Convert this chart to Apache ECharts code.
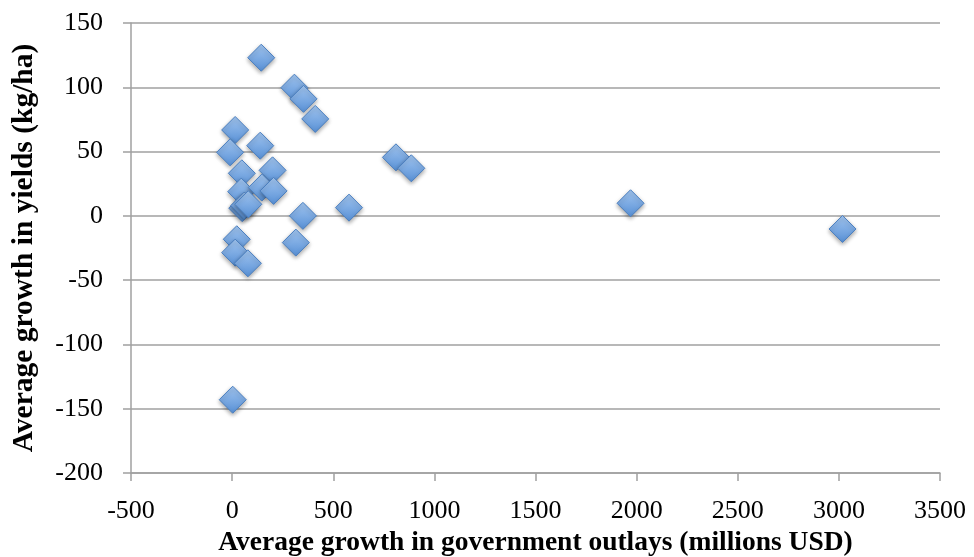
<!DOCTYPE html>
<html><head><meta charset="utf-8">
<script src="https://cdn.jsdelivr.net/npm/echarts@6/dist/echarts.min.js"></script>
<style>html,body{margin:0;padding:0;background:#fff}#c{width:974px;height:557px}</style>
</head><body><div id="c"></div>
<script>
const outlays = [144, 308, 353, 411, 15, 139, -10, 810, 886, 48, 200, 45, 147, 205, 50, 60, 80, 578, 350, 23, 315, 15, 78, 3, 1970, 3018];
const yields  = [123, 99.7, 91, 75.4, 66.8, 54.6, 49.4, 45.5, 37, 33.1, 35.4, 18.8, 22, 19.4, 6, 8, 9, 6.4, 0, -18.2, -20.8, -28.6, -36.9, -143, 9.8, -10.2];
const xTitle = 'Average growth in government outlays (millions USD)';
const yTitle = 'Average growth in yields (kg/ha)';

const data = outlays.map((x, i) => [x, yields[i]]);
const font = 'Liberation Serif';
const chart = echarts.init(document.getElementById('c'));
chart.setOption({
  animation: false,
  grid: {left: 131, right: 34, top: 23, bottom: 84, containLabel: false, outerBoundsMode: 'none'},
  xAxis: {
    type: 'value', min: -500, max: 3500, interval: 500,
    name: xTitle, nameLocation: 'middle', nameGap: 54,
    nameTextStyle: {fontFamily: font, fontWeight: 'bold', fontSize: 27.5, color: '#000'},
    axisLine: {show: true, onZero: false, lineStyle: {color: '#a0a0a0', width: 1.5}},
    axisTick: {show: true, length: 8, lineStyle: {color: '#a0a0a0', width: 1.5}},
    axisLabel: {fontFamily: font, fontSize: 26, color: '#000', margin: 25, formatter: v => String(v)},
    splitLine: {show: false}
  },
  yAxis: {
    type: 'value', min: -200, max: 150, interval: 50,
    name: yTitle, nameLocation: 'middle', nameGap: 92,
    nameTextStyle: {fontFamily: font, fontWeight: 'bold', fontSize: 29.5, color: '#000'},
    axisLine: {show: true, onZero: false, lineStyle: {color: '#a0a0a0', width: 1.5}},
    axisTick: {show: true, length: 8, lineStyle: {color: '#a0a0a0', width: 1.5}},
    axisLabel: {fontFamily: font, fontSize: 26, color: '#000', margin: 28, formatter: v => String(v)},
    splitLine: {show: true, lineStyle: {color: '#a0a0a0', width: 1.5}}
  },
  series: [{
    type: 'scatter',
    symbol: 'diamond',
    symbolSize: 27,
    data: data,
    itemStyle: {
      opacity: 1,
      color: new echarts.graphic.LinearGradient(0, 0, 0, 1, [
        {offset: 0, color: '#a3c6f0'},
        {offset: 1, color: '#5790d6'}
      ]),
      borderColor: '#4a7fc0',
      borderWidth: 1,
      shadowColor: 'rgba(0,0,0,0.35)',
      shadowBlur: 4,
      shadowOffsetY: 2
    }
  }]
});
</script></body></html>
